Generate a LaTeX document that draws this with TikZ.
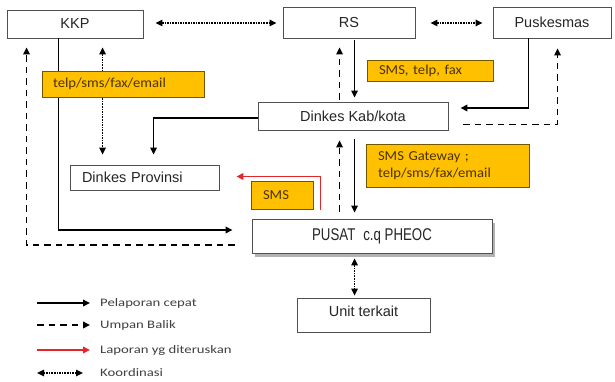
\documentclass[tikz,border=0pt]{standalone}
\usepackage{fontspec}
\setmainfont{Liberation Sans}
\newfontfamily\calib[FakeStretch=1.07]{Carlito}
\newfontfamily\calibwide[FakeStretch=1.28]{Carlito}
\usetikzlibrary{arrows.meta,shadows,calc}
\definecolor{lbl}{HTML}{FFC000}
\definecolor{lbltxt}{HTML}{4A3300}
\definecolor{boxdraw}{HTML}{505050}
\definecolor{redarr}{HTML}{E3262B}
\definecolor{legtext}{HTML}{404040}
\tikzset{
  box/.style={draw=boxdraw, line width=0.9pt, fill=white, inner sep=0pt,
    font=\fontsize{14.5}{16}\selectfont, text=black!85},
  tag/.style={draw=black!55!lbl, line width=0.8pt, fill=lbl, text=lbltxt,
    font=\calib\fontsize{13.7}{17}\selectfont, align=left, inner ysep=0pt},
  pel/.style={line width=1.8pt, -{Triangle[length=7pt,width=6.5pt]}},
  ub/.style={line width=1.8pt, dash pattern=on 6.5pt off 5pt, -{Triangle[length=7pt,width=6.5pt]}},
  lap/.style={line width=1.8pt, draw=redarr, -{Triangle[length=7pt,width=6.5pt]}},
  koord/.style={line width=1.5pt, dash pattern=on 1.5pt off 1.1pt,
    {Triangle[length=7pt,width=6.5pt]}-{Triangle[length=7pt,width=6.5pt]}},
  legtxt/.style={anchor=west, inner sep=0pt, text=legtext, font=\calibwide\fontsize{11.5}{13}\selectfont}
}
\begin{document}
\begin{tikzpicture}[x=1pt,y=-1pt]
\useasboundingbox[fill=white] (0,0) rectangle (615,382);

% boxes
\node[box, minimum width=136pt, minimum height=28pt] (kkp) at (75,24) {KKP};
\node[box, minimum width=132pt, minimum height=31pt] (rs) at (349,22.5) {RS};
\node[box, minimum width=118pt, minimum height=31pt] (pusk) at (552,22.5) {Puskesmas};
\node[box, minimum width=190pt, minimum height=28pt] (dkab) at (353,116) {Dinkes Kab/kota};
\node[box, minimum height=25pt, text width=125pt, inner xsep=12pt, align=left] (dprov) at (144.5,177.5) {Dinkes Provinsi};
\node[box, minimum width=240pt, minimum height=34pt,
  drop shadow={shadow xshift=3pt, shadow yshift=-4pt, opacity=0.3, fill=black}] (pusat) at (372,236)
  {\scalebox{0.78}[1]{\fontsize{17}{19}\selectfont PUSAT\hspace{0.6em}c.q PHEOC}};
\node[box, minimum width=133pt, minimum height=34pt, text depth=8pt] (unit) at (363.5,315) {Unit terkait};

% connectors
\draw[koord] ($(kkp.east)+(12,-1)$) -- ($(rs.west)+(-6,0.5)$);
\draw[koord] ($(rs.east)+(15,0.5)$) -- ($(pusk.west)+(-10,0.5)$);
\draw[ub] ($(pusat.west)+(-17,9)$) -| ($(kkp.south west)+(20,9)$);
\draw[pel] ($(kkp.south west)+(52,0)$) |- ($(pusat.west)+(-19,-6)$);
\draw[koord] ($(kkp.south west)+(96,9)$) -- ($(dprov.north west)+(33,-10)$);
\draw[pel] ($(dkab.west)+(0,2)$) -| ($(dprov.north west)+(84,-10)$);
\draw[ub] ($(dkab.north west)+(82,-2)$) -- ($(rs.south west)+(57,9)$);
\draw[pel] ($(rs.south west)+(72,2)$) -- ($(dkab.north west)+(97,-4)$);
\draw[pel] ($(pusk.south west)+(36,0)$) |- ($(dkab.east)+(12,-8)$);
\draw[ub] ($(dkab.south east)+(15,-6)$) -| ($(pusk.south west)+(65,10)$);
\draw[ub] ($(pusat.north west)+(88,-7)$) -- ($(dkab.south west)+(82,10)$);
\draw[pel] ($(dkab.south west)+(97,9)$) -- ($(pusat.north west)+(103,-6)$);
\draw[lap] ($(pusat.north west)+(69,-9)$) |- ($(dprov.east)+(17,-1)$);
\draw[koord] ($(pusat.south west)+(103,5)$) -- ($(unit.north west)+(58,-2)$);

% labels
\node[tag, minimum height=26pt, text width=140pt, inner xsep=11pt] (lab1) at (123,84) {telp/sms/fax/email};
\node[tag, minimum height=21pt, text width=102pt, inner xsep=12pt] (lab2) at (430,70.5) {SMS, telp, fax};
\node[tag, minimum height=43pt, text width=139pt, inner xsep=12pt] (lab3) at (447.5,165.5) {SMS Gateway ;\\telp/sms/fax/email};
\node[tag, minimum height=28pt, text width=38pt, inner xsep=12pt] (lab4) at (282,195) {SMS};

% legend
\node[legtxt] (t1) at (100,303) {Pelaporan cepat};
\node[legtxt] (t2) at (100,325) {Umpan Balik};
\node[legtxt] (t3) at (100,350) {Laporan yg diteruskan};
\node[legtxt] (t4) at (100,373) {Koordinasi};
\draw[pel] ($(t1.west)+(-63,0)$) -- ($(t1.west)+(-10,0)$);
\draw[ub] ($(t2.west)+(-63,0)$) -- ($(t2.west)+(-10,0)$);
\draw[lap] ($(t3.west)+(-63,0)$) -- ($(t3.west)+(-10,0)$);
\draw[koord] ($(t4.west)+(-63,0)$) -- ($(t4.west)+(-17,0)$);
\end{tikzpicture}
\end{document}
